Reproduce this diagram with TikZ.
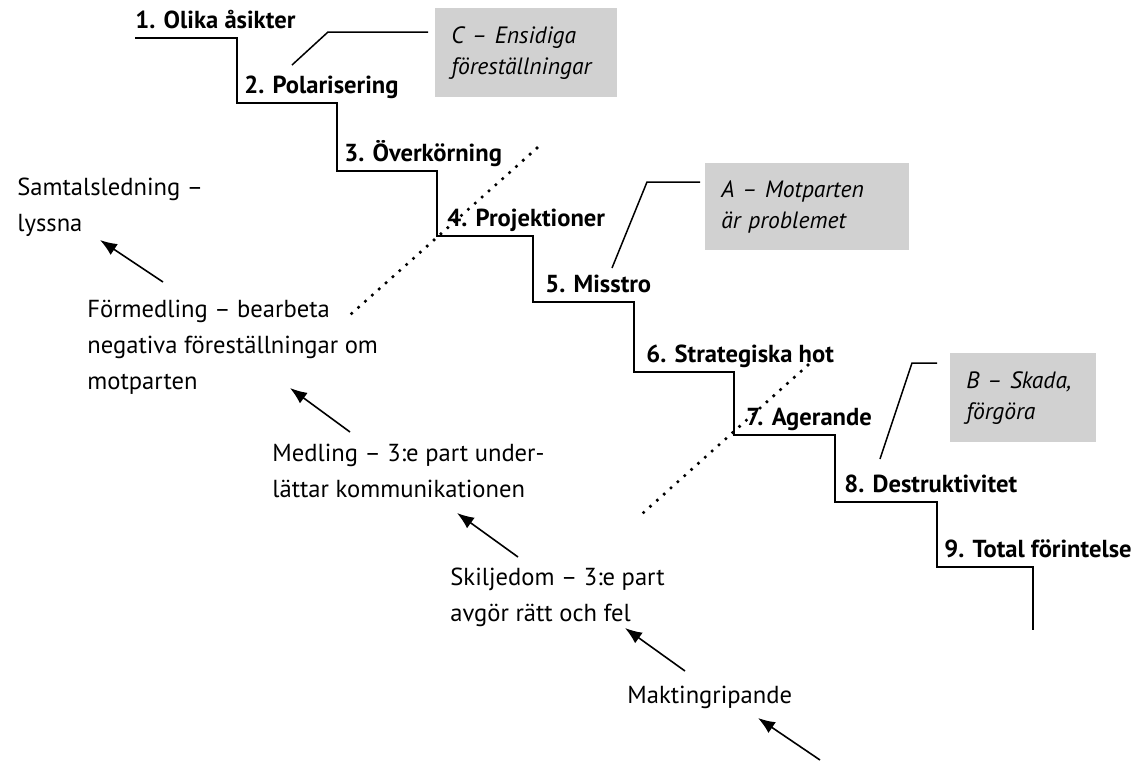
\documentclass[tikz,border=0pt]{standalone}
\usepackage{fontspec}
\setmainfont{PT Sans}
\usetikzlibrary{arrows.meta}
\definecolor{boxgray}{gray}{0.82}
\begin{document}
\begin{tikzpicture}[x=0.5pt,y=-0.5pt,
  stair/.style={line width=1.1pt, line join=miter},
  lbl/.style={font=\fontsize{12.3}{14}\selectfont\bfseries, anchor=base west, inner sep=0pt},
  txt/.style={font=\fontsize{12.3}{18}\selectfont, align=left, anchor=west, inner sep=0pt},
  gbox/.style={fill=boxgray, font=\fontsize{11.8}{15.5}\selectfont\itshape, align=left, anchor=north west, inner xsep=8pt, inner ysep=0pt},
  lead/.style={line width=0.75pt},
  dots/.style={line width=1.8pt, line cap=round, dash pattern=on 0pt off 4.6pt},
  arr/.style={line width=0.8pt, -{Latex[length=8.5pt,width=6.5pt]}}]
\useasboundingbox (0,0) rectangle (1135,761);
% staircase
\draw[stair] (135,38) -| (237,103) -| (337,171) -| (437,236) -| (533,302) -| (634,372) -| (734,435) -| (835,502) -| (937,567) -| (1033,630);
% step labels
\node[lbl] (s1) at (135,28) {1. Olika åsikter};
\node[lbl] (s2) at (244,93) {2. Polarisering};
\node[lbl] (s3) at (344,161) {3. Överkörning};
\node[lbl] (s4) at (447,226) {4. Projektioner};
\node[lbl] (s5) at (545,292) {5. Misstro};
\node[lbl] (s6) at (646,362) {6. Strategiska hot};
\node[lbl] (s7) at (746,425) {7. Agerande};
\node[lbl] (s8) at (844,492) {8. Destruktivitet};
\node[lbl] (s9) at (944,557) {9. Total förintelse};
% gray boxes
\node[gbox, text width=75pt, minimum height=44.5pt] (bc) at (435,8) {C~–~Ensidiga\\föreställningar};
\node[gbox, text width=86pt, minimum height=43.5pt] (ba) at (705,163) {A~–~Motparten\\är~problemet};
\node[gbox, text width=57pt, minimum height=44.5pt] (bb) at (950,353) {B~–~Skada,\\förgöra};
% leaders
\coordinate (lc1) at (428,32); \coordinate (lc2) at (328,32); \coordinate (lc3) at (292,65);
\coordinate (la1) at (700,182); \coordinate (la2) at (647,182); \coordinate (la3) at (612,268);
\coordinate (lb1) at (937,363); \coordinate (lb2) at (912,363); \coordinate (lb3) at (880,459);
\draw[lead] (lc1) -- (lc2) -- (lc3);
\draw[lead] (la1) -- (la2) -- (la3);
\draw[lead] (lb1) -- (lb2) -- (lb3);
% dotted lines
\coordinate (d1a) at (537,148); \coordinate (d1b) at (350,315);
\coordinate (d2a) at (808,365); \coordinate (d2b) at (643,513);
\draw[dots] (d1a) -- (d1b);
\draw[dots] (d2a) -- (d2b);
% left texts
\node[txt] (samtal) at (17,207) {Samtalsledning –\\lyssna};
\node[txt] (formed) at (87,347) {Förmedling – bearbeta\\negativa föreställningar om\\motparten};
\node[txt] (medl) at (272,471) {Medling – 3:e part under-\\lättar kommunikationen};
\node[txt] (skilj) at (450,597) {Skiljedom – 3:e part\\avgör rätt och fel};
\node[txt] (makt) at (627,697) {Maktingripande};
% arrows
\coordinate (a1t) at (163,282); \coordinate (a1h) at (100,240);
\coordinate (a2t) at (350,432); \coordinate (a2h) at (290,388);
\coordinate (a3t) at (518,557); \coordinate (a3h) at (457,513);
\coordinate (a4t) at (685,671); \coordinate (a4h) at (625,628);
\coordinate (a5t) at (820,760); \coordinate (a5h) at (758,718);
\draw[arr] (a1t) -- (a1h);
\draw[arr] (a2t) -- (a2h);
\draw[arr] (a3t) -- (a3h);
\draw[arr] (a4t) -- (a4h);
\draw[arr] (a5t) -- (a5h);
\end{tikzpicture}
\end{document}
